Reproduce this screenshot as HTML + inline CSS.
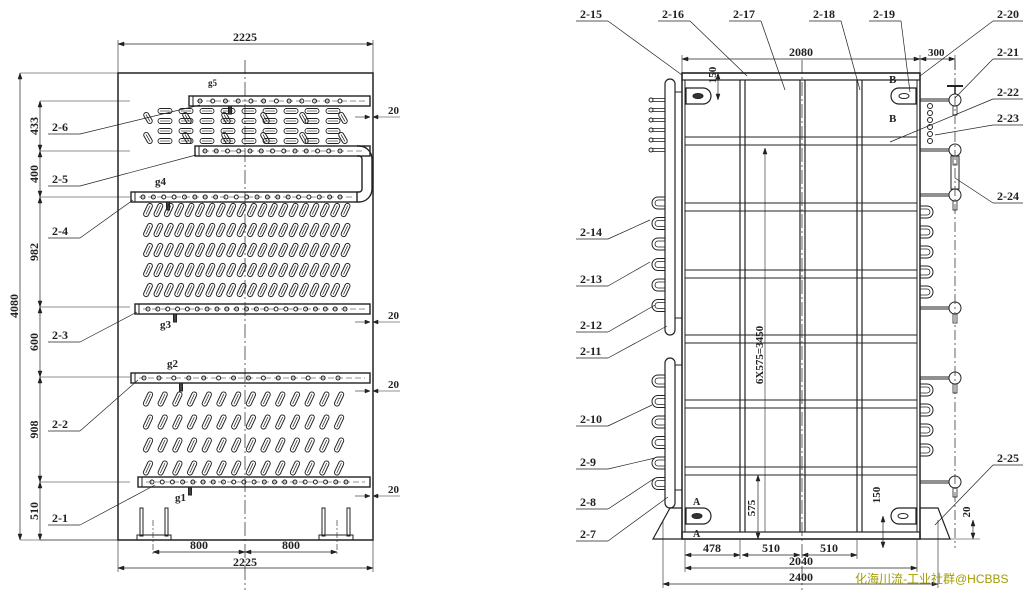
<!DOCTYPE html>
<html><head><meta charset="utf-8">
<style>
html,body{margin:0;padding:0;background:#fff;width:1023px;height:593px;overflow:hidden}
svg{display:block}
text{font-family:"Liberation Serif",serif;font-weight:bold;fill:#222}
</style></head><body>
<svg id="s" width="1023" height="593" viewBox="0 0 1023 593" xmlns="http://www.w3.org/2000/svg">
<g id="g" stroke="#222" fill="none" stroke-width="1">
</g>
<text x="855" y="583" style="font-family:'Liberation Sans','Noto Sans CJK SC',sans-serif;font-weight:normal;fill:#a39b00;font-size:12px">化海川流-工业社群@HCBBS</text>
</svg>
<script>
var g=document.getElementById('g'),s=document.getElementById('s'),h='';
function L(x1,y1,x2,y2,w,c){h+='<line x1="'+x1+'" y1="'+y1+'" x2="'+x2+'" y2="'+y2+'"'+(w?' stroke-width="'+w+'"':'')+(c?' stroke-dasharray="'+c+'"':'')+'/>';}
function R(x,y,w,hh,sw,f){h+='<rect x="'+x+'" y="'+y+'" width="'+w+'" height="'+hh+'"'+(sw?' stroke-width="'+sw+'"':'')+(f?' fill="'+f+'"':'')+'/>';}
function C(x,y,r,f){h+='<circle cx="'+x+'" cy="'+y+'" r="'+r+'"'+(f?' fill="'+f+'"':'')+'/>';}
function P(d,sw,f){h+='<path d="'+d+'"'+(sw?' stroke-width="'+sw+'"':'')+(f?' fill="'+f+'"':'')+'/>';}
var T='';
function X(x,y,t,sz,rot){T+='<text x="'+x+'" y="'+y+'" font-size="'+(sz||12)+'"'+(rot?' transform="rotate(-90 '+x+' '+y+')" text-anchor="middle"':'')+'>'+t+'</text>';}
function Xc(x,y,t,sz){T+='<text x="'+x+'" y="'+y+'" font-size="'+(sz||12)+'" text-anchor="middle">'+t+'</text>';}
function arrowH(x1,x2,y){L(x1,y,x2,y,0.7);P('M'+x1+' '+y+'l6 -2v4z',0.5,'#222');P('M'+x2+' '+y+'l-6 -2v4z',0.5,'#222');}
function arrowV(x,y1,y2){L(x,y1,x,y2,0.7);P('M'+x+' '+y1+'l-2 6h4z',0.5,'#222');P('M'+x+' '+y2+'l-2 -6h4z',0.5,'#222');}
function label(x,y,t,lx,ly,right){X(x,y,t);var ux=right?x+32:x+28; L(x-4,y+3,ux,y+3,0.7); L(right?x-4:ux,y+3,lx,ly,0.7);}

/* ===== LEFT VIEW ===== */
R(118,73,255,467,1.5);
L(245,60,245,590,0.7,'14 3 2 3');
arrowH(118,373,44); L(118,40,118,73,0.6);L(373,40,373,73,0.6); Xc(245,41,'2225');
arrowH(118,373,568); L(118,540,118,572,0.6);L(373,540,373,572,0.6); Xc(245,566,'2225');
arrowH(153,245,552);arrowH(245,337,552);L(153,520,153,556,0.6,'6 2 2 2');L(337,520,337,556,0.6,'6 2 2 2');
Xc(199,549,'800');Xc(291,549,'800');
[[140,168],[322,350]].forEach(function(a){R(a[0],508,3,28,1);R(a[1]-3,508,3,28,1);R(a[0]-3,535,a[1]-a[0]+6,5,1);});
arrowV(20,73,540);L(20,73,118,73,0.6);L(20,540,118,540,0.6);X(18,306,'4080',12,1);
var ys=[101,151,197,307,377,482,540],nm=['433','400','982','600','908','510'];
for(var i=0;i<ys.length-1;i++){arrowV(40,ys[i],ys[i+1]);X(38,(ys[i]+ys[i+1])/2,nm[i],12,1);}
ys.forEach(function(y){L(40,y,130,y,0.6);});
function pipe(x1,y,x2){R(x1,y-5,x2-x1,10,1.4);L(x1+4,y-5,x1+4,y+5,1);L(x1+8,y,x2-5,y,0.5,'6 3');}
pipe(189,101,370);pipe(195,151,370);pipe(131,197,357);pipe(135,309,370);pipe(131,378,370);pipe(138,482,370);
P('M357 146 h2 a13 13 0 0 1 13 13 v30 a13 13 0 0 1 -13 13 h-2',1.4);
P('M357 156 h2 a3 3 0 0 1 3 3 v30 a3 3 0 0 1 -3 3 h-2',1.4);
function holes(x1,x2,y,n){for(var k=0;k<n;k++)C(x1+(x2-x1)*k/(n-1),y,2);}
holes(200,340,101,12);holes(205,340,151,13);holes(143,340,197,20);holes(148,345,309,21);holes(144,338,378,14);holes(152,346,482,20);
[[230,106,'g5',208,86],[168,202,'g4',155,185],[175,314,'g3',160,328],[181,383,'g2',167,367],[190,487,'g1',175,501]].forEach(function(a){R(a[0]-1.5,a[1],3,8,1,'#444');X(a[3],a[4],a[2],a[2]=='g5'?9:11);});
function slot(x,y,ang,len){h+='<g transform="rotate('+ang+' '+x+' '+y+')"><rect x="'+(x-2.5)+'" y="'+(y-len/2)+'" width="5" height="'+len+'" rx="2.5" stroke-width="1"/><line x1="'+x+'" y1="'+(y-len/2+2)+'" x2="'+x+'" y2="'+(y+len/2-2)+'" stroke-width="0.7"/></g>';}
for(var r=0;r<5;r++)for(var c=0;c<20;c++)slot(148+c*10.4,210+r*20,25,14);
for(var r=0;r<4;r++)for(var c=0;c<14;c++)slot(148+c*14.7,399+r*23,25,15);
for(var r=0;r<4;r++)for(var c=0;c<9;c++){var x=165+c*21,y=111+r*10;h+='<rect x="'+(x-7)+'" y="'+(y-2.5)+'" width="14" height="5" rx="2.5" stroke-width="0.9"/>';L(x-5,y,x+5,y,0.6);}
for(var r=0;r<2;r++)for(var c=0;c<6;c++)slot(148+c*39,118+r*20,-30,12);
label(52,131,'2-6',200,105);label(52,183,'2-5',196,155);label(52,235,'2-4',133,200);
label(52,339,'2-3',137,312);label(52,428,'2-2',138,380);label(52,522,'2-1',155,485);
[117,322,391,496].forEach(function(y){L(355,y,370,y,0.6);L(378,y,400,y,0.6);P('M370 '+y+'l-5 -2v4z',0.5,'#222');P('M373 '+y+'l5 -2v4z',0.5,'#222');X(388,y-3,'20',11);});

/* ===== RIGHT VIEW ===== */
R(682,73,238,466,1.5);L(685,80,685,532,1);L(917,80,917,532,1);R(682,73,238,7,1.2);
[740,800,857].forEach(function(x){L(x,80,x,532,1.2);L(x+5,80,x+5,532,1.2);});
L(802,60,802,590,0.7,'14 3 2 3');
[137,203,270,335,400,467].forEach(function(y){R(685,y,232,8,1);});
R(682,532,238,7,1.2);
P('M670 508 H682 V539 H653 Z',1.2);P('M920 508 H938 L950 539 H920 Z',1.2);
P('M686 88 h17 a8 8 0 0 1 0 16 h-17 z',1.2);h+='<ellipse cx="698" cy="96" rx="5" ry="2.5" fill="#333"/>';
P('M916 88 h-17 a8 8 0 0 0 0 16 h17 z',1.2);h+='<ellipse cx="904" cy="96" rx="5" ry="2.5"/>';
P('M686 508 h17 a8 8 0 0 1 0 16 h-17 z',1.2);h+='<ellipse cx="697" cy="516" rx="5" ry="2.5" fill="#333"/>';
P('M916 508 h-17 a8 8 0 0 0 0 16 h17 z',1.2);h+='<ellipse cx="903" cy="516" rx="5" ry="2.5"/>';
X(889,83,'B',11);X(889,122,'B',11);X(693,505,'A',10);X(693,537,'A',10);
P('M665 330 V84 a5 5 0 0 1 10 0 V330 a5 5 0 0 1 -10 0z',1.2);P('M665 503 V363 a5 5 0 0 1 10 0 V503 a5 5 0 0 1 -10 0z',1.2);
L(675,92,682,92,1);L(675,318,682,318,1);L(675,365,682,365,1);L(675,490,682,490,1);
for(var k=0;k<6;k++){var y=100+k*10;L(652,y-1.5,665,y-1.5,0.8);L(652,y+1.5,665,y+1.5,0.8);C(651,y,2);}
function ubL(y0,n,sp){for(var k=0;k<n;k++){var y=y0+k*sp;P('M665 '+(y-6)+' h-7 a6 6 0 0 0 0 12 h7',1);P('M665 '+(y-3)+' h-7 a3 3 0 0 0 0 6 h7',0.8);}}
function ubR(y0,n,sp){for(var k=0;k<n;k++){var y=y0+k*sp;P('M920 '+(y-6)+' h7 a6 6 0 0 1 0 12 h-7',1);P('M920 '+(y-3)+' h7 a3 3 0 0 1 0 6 h-7',0.8);}}
ubL(203,6,20.5);ubL(381,6,20.5);ubR(212,5,20);ubR(390,4,20);
L(955,60,955,548,0.7,'10 3 2 3');
[100,150,195,308,378,482].forEach(function(y){C(955,y,6);L(920,y-1,949,y-1,1);L(920,y+1,949,y+1,1);R(953,y+6,4,9,0.8);});
L(947,86,963,86,2);L(955,86,955,94,1.5);
R(951,156,8,33,1);
for(var k=0;k<6;k++){C(930,106+k*7,2.5);}
arrowH(682,920,59);L(682,55,682,73,0.6);L(920,55,920,73,0.6);Xc(801,56,'2080');
arrowH(920,955,59);L(955,55,955,70,0.6);X(928,56,'300',11);
arrowV(718,73,100);X(716,75,'150',11,1);L(718,73,718,80,0.6);
L(765,148,765,532,0.6);P('M765 148l-2 6h4z',0.5,'#222');X(763,355,'6X575=3450',11,1);
arrowV(758,475,539);X(755,508,'575',11,1);
arrowV(883,516,548);X(880,495,'150',11,1);
arrowV(973,520,539);X(970,512,'20',11,1);L(950,539,980,539,0.6);
arrowH(685,740,555);Xc(712,552,'478');arrowH(742,800,555);Xc(771,552,'510');arrowH(802,857,555);Xc(829,552,'510');
arrowH(685,917,568);Xc(801,565,'2040');
arrowH(663,938,584);Xc(801,581,'2400');
L(685,540,685,572,0.6);L(917,540,917,572,0.6);L(663,520,663,588,0.6);L(938,520,938,588,0.6);L(857,540,857,559,0.6);L(740,540,740,559,0.6);
label(580,18,'2-15',682,75);label(662,18,'2-16',747,76);label(733,18,'2-17',785,90);
label(813,18,'2-18',860,90);label(873,18,'2-19',910,92);label(997,18,'2-20',920,76,1);
label(997,56,'2-21',955,98,1);label(997,96,'2-22',890,142,1);label(997,122,'2-23',935,135,1);
label(997,200,'2-24',955,178,1);label(997,462,'2-25',935,525,1);
label(580,236,'2-14',650,220);label(580,283,'2-13',650,262);label(580,329,'2-12',655,305);
label(580,355,'2-11',667,326);label(580,423,'2-10',652,405);label(580,466,'2-9',655,458);
label(580,506,'2-8',655,478);label(580,538,'2-7',668,497);
g.innerHTML=h;
s.insertAdjacentHTML('beforeend',T);
</script>
</body></html>
